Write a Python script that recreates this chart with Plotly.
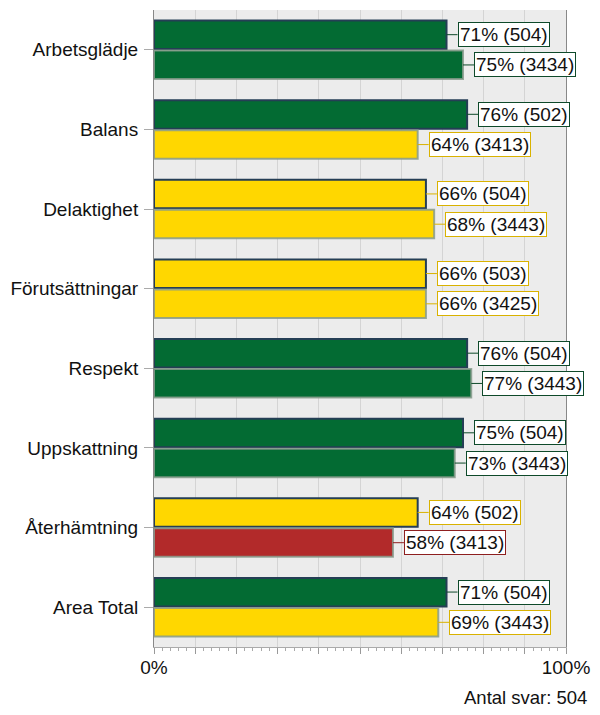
import plotly.graph_objects as go

categories = ["Arbetsglädje", "Balans", "Delaktighet", "Förutsättningar",
              "Respekt", "Uppskattning", "Återhämtning", "Area Total"]
current_pct = [71, 76, 66, 66, 76, 75, 64, 71]
current_n = [504, 502, 504, 503, 504, 504, 502, 504]
compare_pct = [75, 64, 68, 66, 77, 73, 58, 69]
compare_n = [3434, 3413, 3443, 3425, 3443, 3443, 3413, 3443]
x_tick_vals = [0, 10, 20, 30, 40, 50, 60, 70, 80, 90, 100]
x_tick_text = ["0%", "", "", "", "", "", "", "", "", "", "100%"]
footer = "Antal svar: 504"

FONT = "Liberation Sans, Arial, sans-serif"
GREEN, YELLOW, RED = "#036B33", "#FFD700", "#B22A2A"
BORDER = {GREEN: "#0E4A2A", YELLOW: "#D9B200", RED: "#8E1F1F"}


def color_for(v):
    if v >= 70:
        return GREEN
    if v >= 60:
        return YELLOW
    return RED


fig = go.Figure()
fig.add_trace(go.Bar(
    y=categories, x=current_pct, orientation="h",
    marker=dict(color=[color_for(v) for v in current_pct],
                line=dict(color="#253E55", width=2)),
    hoverinfo="skip", showlegend=False))
fig.add_trace(go.Bar(
    y=categories, x=compare_pct, orientation="h",
    marker=dict(color=[color_for(v) for v in compare_pct],
                line=dict(color="rgba(135,155,140,0.85)", width=2)),
    hoverinfo="skip", showlegend=False))

off = 0.19
for i, cat in enumerate(categories):
    for vals, ns, d in ((current_pct, current_n, -off), (compare_pct, compare_n, off)):
        v = vals[i]
        c = color_for(v)
        fig.add_annotation(
            x=v, y=i + d, xref="x", yref="y",
            text=f"{v}% ({ns[i]})",
            showarrow=True, arrowhead=0, arrowwidth=1, arrowcolor=BORDER[c],
            ax=11, ay=0, xanchor="left", yanchor="middle",
            bgcolor="white", bordercolor=BORDER[c], borderwidth=1, borderpad=1,
            font=dict(family=FONT, size=19, color="#111"))

fig.add_annotation(
    x=1, y=0, xref="paper", yref="paper", xanchor="right", yanchor="middle",
    xshift=23, yshift=-50, showarrow=False, text=footer,
    font=dict(family=FONT, size=18.5, color="#111"))

fig.update_layout(
    width=600, height=715,
    margin=dict(l=150, r=33, t=10, b=68),
    paper_bgcolor="white", plot_bgcolor="#ECECEC",
    barmode="group", bargap=0.245, bargroupgap=0.05,
    font=dict(family=FONT, size=19, color="#111"),
)
fig.update_xaxes(
    range=[0, 100], tickvals=x_tick_vals, ticktext=x_tick_text,
    showgrid=True, gridcolor="#D4D4D4", gridwidth=1,
    ticks="outside", ticklen=6, tickcolor="#999",
    minor=dict(dtick=2, ticks="outside", ticklen=3, tickcolor="#AAA", showgrid=False),
    showline=True, linecolor="#AAA", linewidth=1, ticklabelstandoff=-3,
    tickfont=dict(size=19), zeroline=False, fixedrange=True)
fig.update_yaxes(
    autorange="reversed", ticks="outside", ticklen=9, tickcolor="#AAA",
    showline=True, linecolor="#888", linewidth=1, mirror=True,
    showgrid=False, tickfont=dict(size=19), ticklabelstandoff=2, fixedrange=True)

fig.write_html("out.html", config={"displayModeBar": False},
               post_script="document.body.style.margin='0px';document.body.style.overflow='hidden';")
